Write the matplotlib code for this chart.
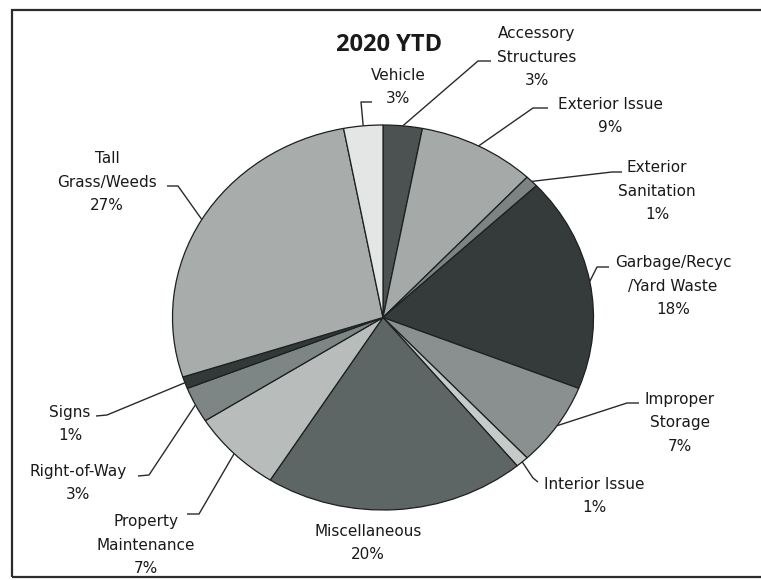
import matplotlib.pyplot as plt
import numpy as np
from matplotlib.patches import Rectangle

plt.rcParams['font.family'] = ['DejaVu Sans']

categories = ['Accessory\nStructures', 'Exterior Issue', 'Exterior\nSanitation',
              'Garbage/Recyc\n/Yard Waste', 'Improper\nStorage', 'Interior Issue',
              'Miscellaneous', 'Property\nMaintenance', 'Right-of-Way', 'Signs',
              'Tall\nGrass/Weeds', 'Vehicle']
shares = [3, 9, 1, 18, 7, 1, 20, 7, 3, 1, 27, 3]
greys = ['#4b5251', '#a5aaa9', '#7c8382', '#353b3b', '#8a908f', '#c6cac9',
         '#5e6665', '#b8bcbb', '#7e8685', '#333939', '#a8adac', '#e4e6e6']

W, H = 761, 580
# pie centre and radii in pixels (the chart is stretched slightly wide)
CX, CY, RX, RY = 383, 317.5, 210.5, 192.5

# label block centre, elbow of the leader and end of its short tick (pixels)
label_pos = [(537, 57), (610, 116), (657, 191), (673, 286), (680, 423), (594, 496),
             (368, 543), (146, 545), (78, 483), (70, 424), (107, 182), (398, 87)]
elbows = [((478, 61), (491, 61)), ((533, 108), (548, 108)), ((612, 172), (622, 172)),
          ((597, 267), (609, 267)), ((627, 403), (639, 403)), ((533, 478), (538, 482)),
          None, ((199, 514), (187, 514)), ((149, 475), (138, 476)),
          ((107, 415), (96, 416)), ((178, 186), (167, 186)), ((361, 102), (372, 102))]


def px(x, y):
    # image pixel (top-left origin) -> data coords of the pie axes
    return (x - CX) / RX, (CY - y) / RY


fig = plt.figure(figsize=(W / 100, H / 100), dpi=100)
ax = fig.add_axes([0, 0, 1, 1])

wedges, _ = ax.pie(shares, colors=greys, startangle=90, counterclock=False,
                   wedgeprops=dict(edgecolor='#1c2020', linewidth=0.9))
ax.set_aspect('auto')
ax.set_xlim(px(0, 0)[0], px(W, 0)[0])
ax.set_ylim(px(0, H)[1], px(0, 0)[1])
ax.axis('off')

for w, name, pct, pos, el in zip(wedges, categories, shares, label_pos, elbows):
    mid = np.deg2rad((w.theta1 + w.theta2) / 2)
    edge = (np.cos(mid), np.sin(mid))
    tx, ty = px(*pos)
    ax.text(tx, ty, f'{name}\n{pct}%', ha='center', va='center', fontsize=11,
            color='#1a1a1a', linespacing=1.7)
    if el is None:
        continue
    (ex, ey), (kx, ky) = px(*el[0]), px(*el[1])
    ax.plot([edge[0], ex, kx], [edge[1], ey, ky], color='#2a2a2a', lw=1.0,
            solid_capstyle='butt')

ax.text(*px(389, 45), '2020 YTD', ha='center', va='center', fontsize=17,
        fontweight='bold', color='#1a1a1a', family=['Open Sans', 'DejaVu Sans'])

# chart border; its right side runs off the edge of the figure
fig.patches.append(Rectangle((12 / W, 1 - 577 / H), (780 - 12) / W, (577 - 10) / H,
                             transform=fig.transFigure, fill=False,
                             edgecolor='#2b2b2b', linewidth=1.6))

fig.savefig('out.png', dpi=100)
